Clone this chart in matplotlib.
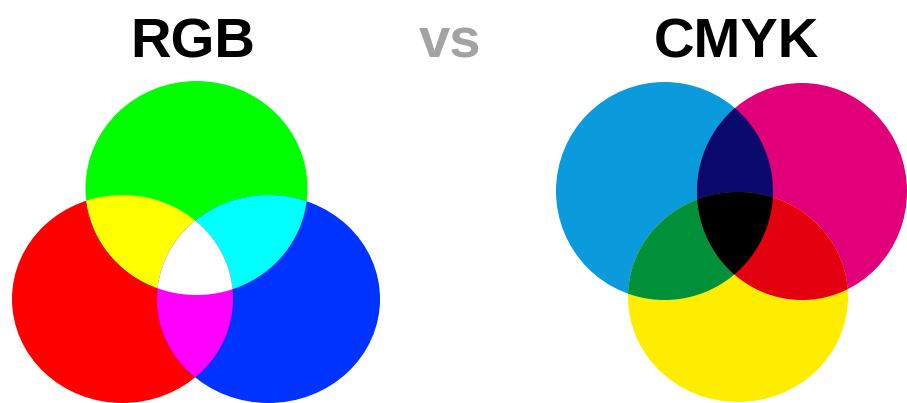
#!/usr/bin/env python
"""RGB vs CMYK colour mixing diagram."""
import numpy as np
import matplotlib
matplotlib.use("Agg")
import matplotlib.pyplot as plt
from matplotlib.patches import Ellipse, Polygon

# Circles, in image pixel coordinates: centre x, centre y, width, height
rgb_names = ["red", "green", "blue"]
rgb_cx = [122.5, 196.5, 268.5]
rgb_cy = [299, 188, 299]
rgb_w = [221, 222, 223]
rgb_h = [208, 214, 208]
rgb_colors = ["#ff0000", "#00ff00", "#0033ff"]
# overlaps: (i, j) -> colour, then all three
rgb_pairs = {(0, 1): "#ffff00", (1, 2): "#00ffff", (0, 2): "#ff00ff"}
rgb_all = "#ffffff"

cmyk_names = ["cyan", "magenta", "yellow"]
cmyk_cx = [664.5, 802, 738]
cmyk_cy = [191, 191.5, 297]
cmyk_w = [217, 210, 220]
cmyk_h = [218, 217, 210]
cmyk_colors = ["#0b9bdc", "#e2007a", "#ffed00"]
cmyk_pairs = {(0, 1): "#0a0a6c", (0, 2): "#00913a", (1, 2): "#e3000f"}
cmyk_all = "#000000"

titles = ["RGB", "vs", "CMYK"]
title_x = [193, 450, 736]
title_colors = ["#000000", "#a3a3a3", "#000000"]


def boundary(cx, cy, w, h, n=1440):
    t = np.linspace(0, 2 * np.pi, n, endpoint=False)
    return np.column_stack([cx + w / 2 * np.cos(t), cy + h / 2 * np.sin(t)])


def inside(pts, cx, cy, w, h):
    return ((pts[:, 0] - cx) / (w / 2)) ** 2 + ((pts[:, 1] - cy) / (h / 2)) ** 2 <= 1 + 1e-9


def overlap(ells):
    # intersection of ellipses is convex: gather boundary points lying in all, sort by angle
    keep = []
    for k, e in enumerate(ells):
        pts = boundary(*e)
        mask = np.ones(len(pts), bool)
        for m, o in enumerate(ells):
            if m != k:
                mask &= inside(pts, *o)
        keep.append(pts[mask])
    pts = np.vstack(keep)
    c = pts.mean(axis=0)
    order = np.argsort(np.arctan2(pts[:, 1] - c[1], pts[:, 0] - c[0]))
    return pts[order]


def draw_set(ax, cx, cy, w, h, colors, pairs, all_color):
    ells = list(zip(cx, cy, w, h))
    for e, col in zip(ells, colors):
        ax.add_patch(Ellipse((e[0], e[1]), e[2], e[3], facecolor=col, linewidth=0))
    for (i, j), col in pairs.items():
        ax.add_patch(Polygon(overlap([ells[i], ells[j]]), closed=True, facecolor=col, linewidth=0))
    ax.add_patch(Polygon(overlap(ells), closed=True, facecolor=all_color, linewidth=0))


fig = plt.figure(figsize=(9.07, 4.03), dpi=100)
ax = fig.add_axes([0, 0, 1, 1])
ax.set_xlim(0, 907)
ax.set_ylim(403, 0)
ax.axis("off")

draw_set(ax, rgb_cx, rgb_cy, rgb_w, rgb_h, rgb_colors, rgb_pairs, rgb_all)
draw_set(ax, cmyk_cx, cmyk_cy, cmyk_w, cmyk_h, cmyk_colors, cmyk_pairs, cmyk_all)

for txt, x, col in zip(titles, title_x, title_colors):
    ax.text(x, 58, txt, ha="center", va="baseline", fontsize=40.5, fontweight="bold",
            color=col, family="Liberation Sans")

fig.savefig("out.png", dpi=100)
plt.close(fig)
